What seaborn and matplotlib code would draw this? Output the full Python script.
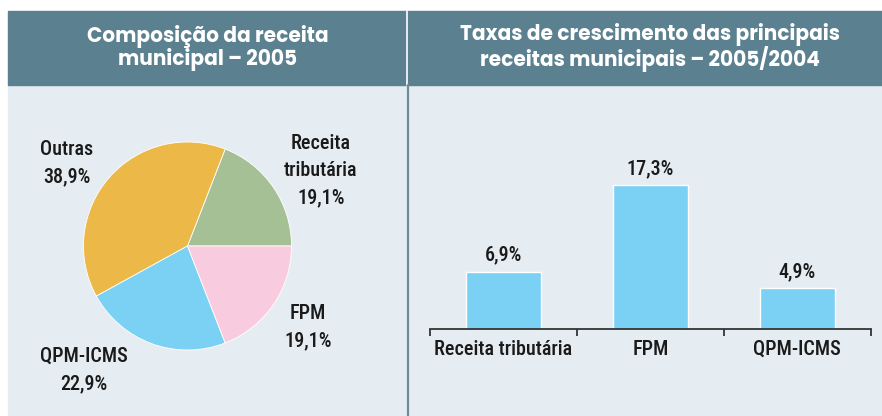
import matplotlib
matplotlib.use("Agg")
import matplotlib.pyplot as plt
import seaborn as sns
from matplotlib.patches import Rectangle
from matplotlib.lines import Line2D
import pandas as pd

# ---- data ----
pie_categories = ["Receita tributária", "Outras", "QPM-ICMS", "FPM"]
pie_values = [19.1, 38.9, 22.9, 19.1]
pie_colors = ["#a6c096", "#ecb848", "#7bd1f4", "#f8cbdf"]

bar_categories = ["Receita tributária", "FPM", "QPM-ICMS"]
bar_values = [6.9, 17.3, 4.9]

title_left = "Composição da receita\nmunicipal – 2005"
title_right = "Taxas de crescimento das principais\nreceitas municipais – 2005/2004"

HEADER = "#5b8090"
BG = "#e6edf2"
BAR = "#7bd1f4"
TXT = "#1a1a1a"
LABEL_FONT = ["Roboto Condensed", "DejaVu Sans"]
TITLE_FONT = ["Poppins", "DejaVu Sans"]
LBL_SIZE = 14.5
LBL_WEIGHT = "medium"

sns.set_theme(style="white")
plt.rcParams["font.family"] = LABEL_FONT

W, H = 882, 416
fig = plt.figure(figsize=(W / 100, H / 100), dpi=100)
fig.patch.set_facecolor("white")


def fx(x):
    return x / W


def fy(y):
    return 1 - y / H


# backgrounds
fig.patches.append(Rectangle((fx(8), fy(416)), fx(882 - 8), (416 - 85) / H,
                             transform=fig.transFigure, color=BG, zorder=-10))
fig.patches.append(Rectangle((fx(8), fy(85)), fx(882 - 8), (85 - 11) / H,
                             transform=fig.transFigure, color=HEADER, zorder=-10))
fig.lines.append(Line2D([fx(407), fx(407)], [fy(11), fy(85)], transform=fig.transFigure,
                        color="white", lw=1.2, zorder=-5))
fig.lines.append(Line2D([fx(407.5), fx(407.5)], [fy(85), fy(416)], transform=fig.transFigure,
                        color="#6f8c9c", lw=1.6, zorder=-5))

# titles
fig.text(fx(207.5), fy(48), title_left, ha="center", va="center", color="white",
         fontsize=14.5, fontweight="bold", family=TITLE_FONT, linespacing=1.0)
fig.text(fx(650), fy(48), title_right, ha="center", va="center", color="white",
         fontsize=14.5, fontweight="bold", family=TITLE_FONT, linespacing=1.0)

# ---- pie ----
cx, cy, r = 187.5, 246, 104
axp = fig.add_axes([fx(cx - r), fy(cy + r), 2 * r / W, 2 * r / H])
axp.pie(pie_values, colors=pie_colors, startangle=0, counterclock=True,
        wedgeprops=dict(edgecolor="white", linewidth=0.6))
axp.set_xlim(-1, 1)
axp.set_ylim(-1, 1)
axp.set_aspect("equal")
axp.axis("off")


def fmt(v):
    return f"{v:.1f}%".replace(".", ",")


label_pos = {
    "Receita tributária": (321, 171),
    "Outras": (67, 163),
    "QPM-ICMS": (84, 370),
    "FPM": (308, 327),
}
for cat, val in zip(pie_categories, pie_values):
    name = cat.replace(" ", "\n")
    x, y = label_pos[cat]
    fig.text(fx(x), fy(y), f"{name}\n{fmt(val)}", ha="center", va="center",
             fontsize=LBL_SIZE, fontweight=LBL_WEIGHT, color=TXT, linespacing=1.55)

# ---- bars ----
x0, x1, ybase = 430, 870.7, 329
ymax = 20
ppu = 144 / 17.3
axb = fig.add_axes([fx(x0), fy(ybase), (x1 - x0) / W, ymax * ppu / H])
df = pd.DataFrame({"cat": bar_categories, "val": bar_values})
sns.barplot(data=df, x="cat", y="val", color=BAR, saturation=1, width=0.51, ax=axb)
axb.set_facecolor("none")
axb.set_xlim(-0.5, len(bar_categories) - 0.5)
axb.set_ylim(0, ymax)
axb.set_xlabel("")
axb.set_ylabel("")
axb.set_yticks([])
for s in ["top", "right", "left"]:
    axb.spines[s].set_visible(False)
axb.spines["bottom"].set_color("#333333")
axb.spines["bottom"].set_linewidth(1.3)
axb.set_xticks([i - 0.5 for i in range(len(bar_categories) + 1)], minor=True)
axb.tick_params(axis="x", which="minor", length=5, width=1.3, color="#333333",
                direction="out", bottom=True)
axb.tick_params(axis="x", which="major", length=0, pad=8, labelsize=LBL_SIZE, labelcolor=TXT)
for t in axb.get_xticklabels():
    t.set_fontweight(LBL_WEIGHT)
axb.bar_label(axb.containers[0], labels=[fmt(v) for v in bar_values], padding=5,
              fontsize=LBL_SIZE, fontweight=LBL_WEIGHT, color=TXT)

fig.savefig("out.png", dpi=100, facecolor=fig.get_facecolor())
